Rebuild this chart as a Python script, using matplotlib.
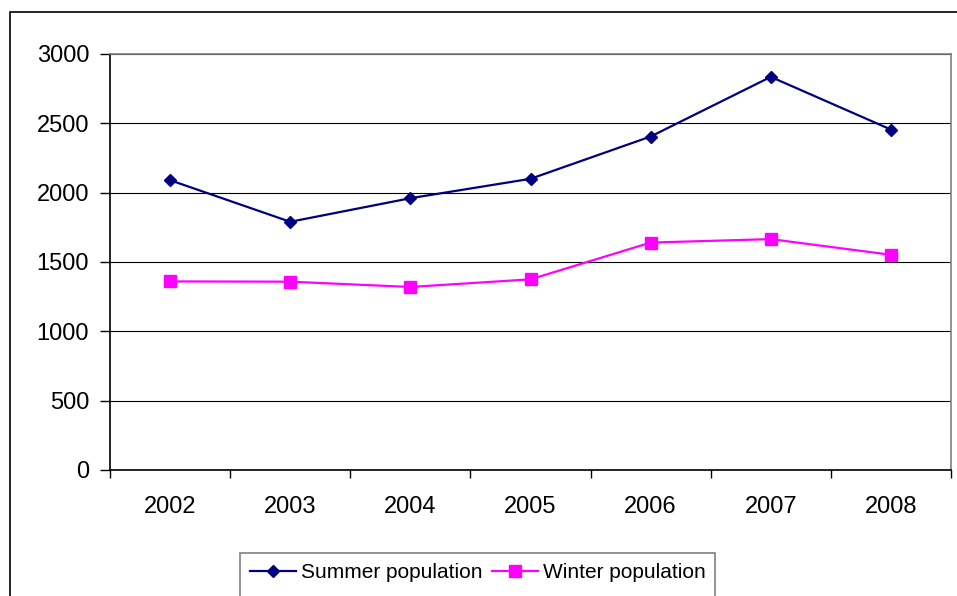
import matplotlib.pyplot as plt
from matplotlib.patches import Rectangle

years = ['2002', '2003', '2004', '2005', '2006', '2007', '2008']
summer = [2090, 1790, 1960, 2100, 2405, 2835, 2455]
winter = [1360, 1358, 1320, 1375, 1640, 1665, 1552]

plt.rcParams['font.family'] = ['Liberation Sans', 'DejaVu Sans']

W, H = 957, 596
fig = plt.figure(figsize=(W / 100, H / 100), dpi=100)
ax = fig.add_axes([110 / W, 1 - 470 / H, (951 - 110) / W, (470 - 54) / H])

# outer chart border (runs off the right and bottom edge)
fig.patches.append(Rectangle((10 / W, -0.1), 1.0, 1.1 - 12 / H, transform=fig.transFigure,
                             fill=False, edgecolor='black', linewidth=1.2))
# legend box, also cut off at the bottom
fig.patches.append(Rectangle((240 / W, -0.1), (715 - 240) / W, 0.1 + 1 - 553 / H,
                             transform=fig.transFigure, fill=False,
                             edgecolor='#808080', linewidth=1.2))

x = range(len(years))
ax.plot(x, summer, color='#000080', marker='D', markersize=6.5, linewidth=1.6,
        label='Summer population')
ax.plot(x, winter, color='#FF00FF', marker='s', markersize=8.5, linewidth=1.6,
        label='Winter population')

ax.set_xlim(-0.5, 6.5)
ax.set_ylim(0, 3000)
ax.set_yticks(range(0, 3001, 500))
ax.set_xticks(list(x))
ax.set_xticklabels(years)
ax.set_xticks([i - 0.5 for i in range(8)], minor=True)
ax.tick_params(axis='x', which='major', length=0, pad=19, labelsize=17)
ax.tick_params(axis='x', which='minor', length=6, width=1, direction='out')
ax.tick_params(axis='y', length=7, width=1, direction='out', pad=8, labelsize=17)

ax.grid(axis='y', color='black', linewidth=0.8)
ax.set_axisbelow(True)
for side in ['top', 'right']:
    ax.spines[side].set_color('#808080')
    ax.spines[side].set_linewidth(1.2)
for side in ['left', 'bottom']:
    ax.spines[side].set_color('black')
    ax.spines[side].set_linewidth(1.2)

fig.legend(loc='upper left', bbox_to_anchor=(240 / W, 1 - 553 / H),
           ncol=2, fontsize=15, frameon=False,
           handlelength=2.2, handletextpad=0.25,
           columnspacing=0.45, borderpad=0.5, borderaxespad=0)

fig.savefig('out.png', dpi=100)
